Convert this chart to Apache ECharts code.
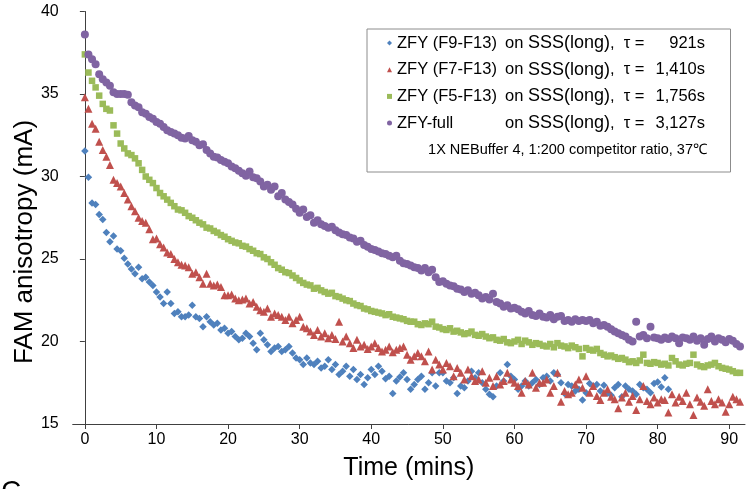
<!DOCTYPE html>
<html>
<head>
<meta charset="utf-8">
<script src="https://cdn.jsdelivr.net/npm/echarts@6/dist/echarts.min.js"></script>
<style>html,body{margin:0;padding:0;background:#fff}#c{width:750px;height:489px}</style>
</head>
<body>
<div id="c"></div>
<script>
const times = [0,0.5,1,1.5,2,2.5,3,3.5,4,4.5,5,5.5,6,6.5,7,7.5,8,8.5,9,9.5,
10,10.5,11,11.5,12,12.5,13,13.5,14,14.5,15,15.5,16,16.5,17,17.5,18,18.5,19,19.5,
20,20.5,21,21.5,22,22.5,23,23.5,24,24.5,25,25.5,26,26.5,27,27.5,28,28.5,29,29.5,
30,30.5,31,31.5,32,32.5,33,33.5,34,34.5,35,35.5,36,36.5,37,37.5,38,38.5,39,39.5,
40,40.5,41,41.5,42,42.5,43,43.5,44,44.5,45,45.5,46,46.5,47,47.5,48,48.5,49,49.5,
50,50.5,51,51.5,52,52.5,53,53.5,54,54.5,55,55.5,56,56.5,57,57.5,58,58.5,59,59.5,
60,60.5,61,61.5,62,62.5,63,63.5,64,64.5,65,65.5,66,66.5,67,67.5,68,68.5,69,69.5,
70,70.5,71,71.5,72,72.5,73,73.5,74,74.5,75,75.5,76,76.5,77,77.5,78,78.5,79,79.5,
80,80.5,81,81.5,82,82.5,83,83.5,84,84.5,85,85.5,86,86.5,87,87.5,88,88.5,89,89.5,
90,90.5,91,91.5];

const seriesNames = ['ZFY (F9-F13)', 'ZFY (F7-F13)', 'ZFY (F5-F13)', 'ZFY-full'];
const tauLabels = ['921s', '1,410s', '1,756s', '3,127s'];
const xTicks = [0, 10, 20, 30, 40, 50, 60, 70, 80, 90];
const yTicks = [15, 20, 25, 30, 35, 40];

const f9 = [31.55,29.95,28.4,28.3,27.7,27.4,26.6,26.05,26.4,25.6,25.5,25.05,24.7,24.4,24.1,24.5,23.8,23.9,23.6,23.4,
23.0,22.7,22.3,23.0,22.3,21.7,21.8,21.5,21.5,21.6,22.2,21.5,21.4,20.9,21.5,21.2,21.0,21.1,20.7,20.8,
20.5,20.6,20.3,20.1,20.2,20.5,20.3,19.9,19.5,20.5,20.1,19.8,19.4,19.6,19.7,19.4,19.5,19.7,19.3,19.0,
18.9,18.6,19.0,18.7,18.6,18.8,18.4,18.5,18.9,18.3,18.6,18.0,18.2,18.5,17.9,18.3,17.7,18.0,17.4,17.8,
18.3,18.0,18.5,18.2,17.75,17.9,16.85,17.6,17.85,18.1,17.7,17.1,17.4,17.7,17.9,17.1,17.5,18.1,17.3,18.1,
18.1,17.6,17.5,17.8,16.85,17.3,17.2,17.6,18.2,17.8,18.1,17.5,17.1,16.8,16.65,17.3,18.1,17.6,18.6,17.9,
17.7,17.1,17.3,17.6,17.3,17.5,17.7,17.4,17.8,17.9,17.6,18.1,18.0,17.5,16.85,17.4,17.3,17.0,17.1,16.45,
16.9,17.45,17.3,17.4,17.0,17.35,16.9,16.75,17.2,17.4,16.65,17.3,17.1,17.0,16.8,17.4,17.2,17.1,16.9,17.45,
17.55,17.25,17.8,17.1];

const f7 = [34.8,34.1,33.2,32.9,32.1,31.6,31.2,30.7,29.8,29.6,29.4,29.0,28.6,28.2,27.9,27.5,27.3,27.2,26.8,26.2,
26.25,25.9,25.7,25.4,25.3,25.0,24.8,24.65,24.6,24.5,24.1,24.2,23.9,23.5,24.1,23.5,23.4,23.45,23.3,22.8,
22.8,22.85,22.6,22.5,22.55,22.6,22.3,22.4,22.1,21.9,21.8,22.0,21.5,21.7,21.6,21.5,21.3,21.5,21.1,21.3,
21.5,20.9,20.8,20.6,20.4,20.7,20.3,20.5,20.2,20.4,20.15,21.2,20.0,20.3,19.9,19.6,20.1,19.7,19.8,19.55,
19.7,19.9,19.6,19.4,19.5,19.7,19.35,19.5,19.6,19.7,19.2,18.9,19.1,19.3,19.1,18.8,19.4,18.3,18.9,18.6,
18.3,18.7,18.5,17.9,18.4,18.1,17.7,18.3,17.9,17.6,17.7,18.2,17.5,17.8,17.3,17.9,17.4,17.6,18.1,17.7,
17.5,17.3,16.9,17.6,17.4,18.1,17.2,17.5,17.5,17.7,16.9,17.3,18.1,16.35,17.0,16.8,16.9,17.4,17.7,17.2,
17.9,16.9,17.3,16.7,16.45,16.9,17.1,16.65,16.5,15.95,16.6,16.9,16.35,16.7,15.85,16.5,17.3,16.4,16.2,16.6,
16.3,16.5,16.45,15.7,16.8,16.3,16.65,16.4,16.9,16.2,15.55,16.6,16.35,16.1,17.1,16.4,16.2,16.5,16.3,15.75,
16.2,16.65,16.5,16.35];

const f5 = [37.4,36.3,35.8,35.4,34.9,34.4,34.1,34.0,33.1,32.6,32.0,31.7,31.4,31.3,31.1,30.8,30.4,30.0,29.8,29.6,
29.3,29.0,28.8,28.6,28.4,28.2,28.0,27.95,27.8,27.6,27.5,27.35,27.2,27.1,26.9,26.85,26.7,26.6,26.45,26.35,
26.2,26.1,26.0,25.95,25.8,25.75,25.6,25.5,25.35,25.3,25.1,25.0,24.8,24.65,24.45,24.35,24.2,24.15,24.0,23.85,
23.7,23.55,23.45,23.4,23.2,23.25,23.1,23.0,22.9,22.95,22.75,22.7,22.6,22.5,22.45,22.3,22.2,22.15,22.0,21.95,
21.85,21.8,21.75,21.7,21.6,21.65,21.5,21.45,21.4,21.35,21.25,21.2,21.2,21.05,21.0,21.1,21.05,21.2,20.9,20.85,
20.75,20.7,20.8,20.6,20.65,20.55,20.45,20.5,20.6,20.4,20.35,20.45,20.3,20.2,20.25,20.1,20.05,20.15,19.95,19.9,
20.0,20.1,19.85,20.05,19.95,19.8,19.9,19.85,19.75,19.7,19.85,19.65,19.9,19.75,19.7,19.6,19.75,19.65,19.55,19.1,
19.6,19.5,19.45,19.55,19.3,19.2,19.1,19.15,19.05,18.95,19.0,18.9,18.75,18.8,18.7,18.85,19.2,18.7,18.65,18.75,
18.7,18.6,18.65,18.55,19.0,18.8,18.6,18.55,18.65,18.7,19.2,18.6,18.5,18.45,18.55,18.6,18.7,18.5,18.4,18.35,
18.3,18.2,18.1,18.1];

const full = [38.6,37.4,37.1,36.8,36.2,35.9,35.7,35.5,35.1,35.0,35.0,35.0,34.95,34.5,34.3,34.2,33.9,33.8,33.6,33.5,
33.3,33.2,33.0,32.8,32.7,32.6,32.5,32.35,32.3,32.45,32.2,32.1,31.9,31.95,31.6,31.4,31.2,31.15,31.0,30.9,
30.8,30.6,30.5,30.35,30.2,30.05,30.3,29.95,29.9,29.7,29.4,29.5,29.2,29.4,28.8,29.0,28.6,28.45,28.3,28.05,
27.8,28.0,27.55,27.65,27.2,27.35,27.1,27.0,26.9,26.95,26.75,26.6,26.5,26.45,26.3,26.25,26.05,26.1,25.85,25.75,
25.6,25.55,25.45,25.35,25.3,25.2,25.1,25.2,24.9,24.75,24.7,24.6,24.5,24.45,24.3,24.45,24.2,24.35,23.9,23.6,
23.65,23.5,23.4,23.35,23.2,23.15,23.0,23.1,22.9,22.95,22.8,22.6,22.7,22.55,22.9,22.4,22.3,22.1,22.2,22.0,
22.05,21.95,21.8,21.7,21.85,21.6,21.55,21.7,21.5,21.45,21.6,21.35,21.5,21.55,21.25,21.3,21.2,21.35,21.25,21.3,
21.25,21.3,21.1,21.2,20.95,21.0,20.9,20.75,20.6,20.5,20.4,20.3,20.1,20.0,21.2,20.3,20.4,20.2,20.9,20.25,
20.2,20.1,20.25,20.15,20.3,20.2,19.9,20.25,20.2,20.1,20.3,20.05,20.2,19.8,20.15,20.3,20.0,20.2,20.1,19.95,
20.15,20.05,19.85,19.7];

const valueSets = [f9, f7, f5, full];
const colors = ['#4F81BD', '#C0504D', '#9BBB59', '#8064A2'];
const symbols = ['diamond', 'triangle', 'rect', 'circle'];
const sizes = [7.5, 8, 6.5, 8];

const FONT = '"Liberation Sans", Arial, sans-serif';

const chart = echarts.init(document.getElementById('c'), null, {renderer: 'canvas'});

const series = valueSets.map((vals, k) => ({
  name: seriesNames[k],
  type: 'scatter',
  symbol: symbols[k],
  symbolSize: sizes[k],
  itemStyle: {color: colors[k], opacity: 1},
  z: 2 + k,
  data: vals.map((v, i) => [times[i], v])
}));

chart.setOption({
  animation: false,
  backgroundColor: '#fff',
  grid: {left: 72.7, right: 5, top: 11.5, bottom: 65, containLabel: false},
  xAxis: {
    type: 'value', min: -1.7, max: 92.2,
    name: 'Time (mins)', nameLocation: 'middle', nameGap: 32,
    nameTextStyle: {fontFamily: FONT, fontSize: 25, color: '#000'},
    axisLine: {show: true, lineStyle: {color: '#404040', width: 1}},
    axisTick: {show: true, length: 5, lineStyle: {color: '#404040'}, customValues: xTicks},
    axisLabel: {fontFamily: FONT, fontSize: 16, color: '#000', margin: 8, customValues: xTicks},
    splitLine: {show: false}
  },
  yAxis: {
    type: 'value', min: 15, max: 40, interval: 5,
    axisLine: {show: true, lineStyle: {color: '#404040', width: 1}},
    axisTick: {show: true, length: 5, lineStyle: {color: '#404040'}},
    axisLabel: {fontFamily: FONT, fontSize: 16, color: '#000', margin: 14},
    splitLine: {show: false}
  },
  legend: {
    orient: 'vertical', left: 387, top: 33, padding: 0,
    itemWidth: 5, itemHeight: 5, itemGap: 6.7,
    data: seriesNames,
    formatter: function (name) {
      const k = seriesNames.indexOf(name);
      return '{n|' + name + '}{o|on }{s|SSS(long)}{t|,  τ = }{v|' + tauLabels[k] + '}';
    },
    textStyle: {
      fontFamily: FONT, fontSize: 16.5, color: '#000', lineHeight: 20,
      rich: {
        n: {fontFamily: FONT, fontSize: 16.5, width: 108, lineHeight: 20, color: '#000'},
        o: {fontFamily: FONT, fontSize: 16.5, lineHeight: 20, color: '#000'},
        s: {fontFamily: FONT, fontSize: 18, lineHeight: 20, color: '#000'},
        t: {fontFamily: FONT, fontSize: 16.5, lineHeight: 20, color: '#000'},
        v: {fontFamily: FONT, fontSize: 16.5, lineHeight: 20, width: 56, align: 'right', color: '#000'}
      }
    }
  },
  graphic: [
    {type: 'rect', left: 366.5, top: 28.5, z: 0,
     shape: {x: 0, y: 0, width: 363.5, height: 143},
     style: {fill: '#fff', stroke: '#8c8c8c', lineWidth: 1}},
    {type: 'text', z: 10, x: 707, y: 150,
     style: {text: '1X NEBuffer 4, 1:200 competitor ratio, 37\u2103', font: '14.5px ' + FONT,
             fill: '#000', textAlign: 'right', textVerticalAlign: 'middle'}},
    {type: 'text', z: 10, x: 25, y: 242, rotation: Math.PI / 2,
     style: {text: 'FAM anisotropy (mA)', font: '26px ' + FONT, fill: '#000',
             textAlign: 'center', textVerticalAlign: 'middle'}},
    {type: 'text', z: 10, x: 1, y: 478,
     style: {text: 'C', font: '28px ' + FONT, fill: '#000', textAlign: 'left', textVerticalAlign: 'top'}}
  ],
  series: series
});
</script>
</body>
</html>
